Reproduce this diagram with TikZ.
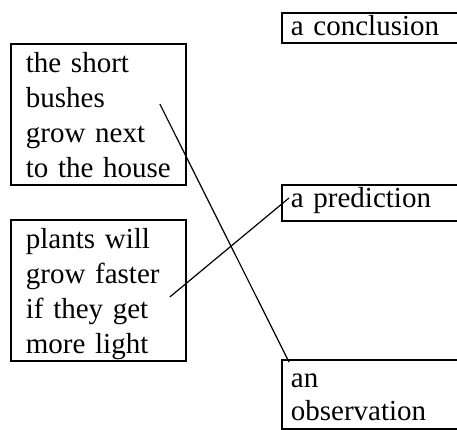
\documentclass[tikz,border=0pt]{standalone}
\usepackage{fontspec}
\setmainfont{Liberation Serif}
\tikzset{
  leftbox/.style={draw, line width=1.8pt, anchor=north west, align=left,
    text width=145pt, inner xsep=15pt, inner ysep=0pt,
    text height=29pt, text depth=112pt,
    font=\fontsize{29}{34.8}\selectfont},
  rightbox/.style={draw, line width=1.8pt, anchor=north west, align=left,
    text width=200pt, inner xsep=9pt, inner ysep=0pt,
    font=\fontsize{29}{33}\selectfont},
  link/.style={line width=1.2pt}
}
\begin{document}
\begin{tikzpicture}[x=1pt,y=-1pt]
    \useasboundingbox (0,0) rectangle (457,430);

    % Statements on the left
    \node[leftbox] (bushes) at (10,43) {the short\\bushes\\grow next\\to the house};
    \node[leftbox] (plants) at (10,219) {plants will\\grow faster\\if they get\\more light};

    % Terms on the right
    \node[rightbox, text height=23pt, text depth=7pt] (conclusion) at (281,12) {a conclusion};
    \node[rightbox, text height=23pt, text depth=13pt] (prediction) at (281,184) {a prediction};
    \node[rightbox, text height=28pt, text depth=41pt] (observation) at (281,359) {an\\observation};

    % Matching lines
    \coordinate (bushesend) at ([xshift=-27pt,yshift=-61pt]bushes.north east);
    \coordinate (plantsend) at ([xshift=-17pt,yshift=-78pt]plants.north east);
    \coordinate (predend) at ([xshift=8pt,yshift=-14pt]prediction.north west);
    \coordinate (obsend) at ([xshift=8pt,yshift=-3pt]observation.north west);
    \draw[link] (bushesend) -- (obsend);
    \draw[link] (plantsend) -- (predend);
\end{tikzpicture}
\end{document}
